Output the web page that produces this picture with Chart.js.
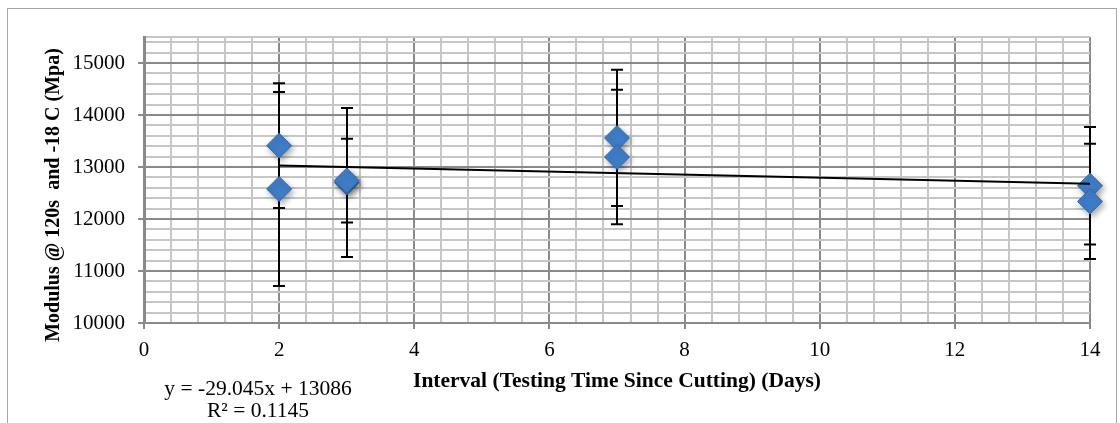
<!DOCTYPE html>
<html>
<head>
<meta charset="utf-8">
<script src="https://cdn.jsdelivr.net/npm/chart.js@4.4.0/dist/chart.umd.min.js"></script>
<style>
  html, body { margin: 0; padding: 0; background: #fff; }
  #wrap { position: relative; width: 1120px; height: 423px; overflow: hidden; }
  #moldura { position: absolute; left: 7px; top: 8px; width: 1108px; height: 600px; border: 1px solid #a6a6a6; pointer-events: none; }
</style>
</head>
<body>
<div id="wrap">
  <canvas id="myChart" width="1120" height="423"></canvas>
  <div id="moldura"></div>
</div>
<script>
// dados
var dias = [2, 2, 3, 3, 7, 7, 14, 14];
var modulo = [13410, 12577, 12702, 12740, 13558, 13192, 12640, 12338];
var erro = [1200, 1865, 1433, 805, 1310, 1295, 1130, 1108];

// linha de tendência (equação mostrada no gráfico)
var inclinacao = -29.045;
var intercepto = 13086;
var r2 = 0.1145;

var xLabels = [0, 2, 4, 6, 8, 10, 12, 14];
var yLabels = [10000, 11000, 12000, 13000, 14000, 15000];

var corMaior = '#8a8a8a';
var corMenor = '#c6c6c6';
var fonte = '"Liberation Serif", "Times New Roman", serif';

function ehMaior(lista, v) {
  return lista.some(function (l) { return Math.abs(l - v) < 1e-6; });
}

var pontos = dias.map(function (d, i) { return { x: d, y: modulo[i] }; });
var xMin = Math.min.apply(null, dias);
var xMax = Math.max.apply(null, dias);
var tendencia = [
  { x: xMin, y: inclinacao * xMin + intercepto },
  { x: xMax, y: inclinacao * xMax + intercepto }
];

// barras de erro desenhadas por baixo dos pontos
var barrasErro = {
  id: 'barrasErro',
  beforeDatasetsDraw: function (chart) {
    var ctx = chart.ctx;
    var sx = chart.scales.x, sy = chart.scales.y;
    ctx.save();
    ctx.strokeStyle = '#000';
    ctx.lineWidth = 2;
    dias.forEach(function (d, i) {
      var px = Math.round(sx.getPixelForValue(d));
      var topo = sy.getPixelForValue(modulo[i] + erro[i]);
      var base = sy.getPixelForValue(modulo[i] - erro[i]);
      ctx.beginPath();
      ctx.moveTo(px, topo); ctx.lineTo(px, base);
      ctx.moveTo(px - 6, topo); ctx.lineTo(px + 6, topo);
      ctx.moveTo(px - 6, base); ctx.lineTo(px + 6, base);
      ctx.stroke();
    });
    ctx.restore();
  },
  beforeDatasetDraw: function (chart, args) {
    if (args.index === 0) {
      chart.ctx.save();
      chart.ctx.shadowColor = 'rgba(0,0,0,0.35)';
      chart.ctx.shadowBlur = 6;
      chart.ctx.shadowOffsetX = 2;
      chart.ctx.shadowOffsetY = 3;
    }
  },
  afterDatasetDraw: function (chart, args) {
    if (args.index === 0) chart.ctx.restore();
  }
};

// títulos dos eixos e equação
var textos = {
  id: 'textos',
  afterDraw: function (chart) {
    var ctx = chart.ctx;
    var area = chart.chartArea;
    ctx.save();
    ctx.fillStyle = '#000';
    ctx.textAlign = 'center';
    ctx.textBaseline = 'alphabetic';
    ctx.font = 'bold 21.5px ' + fonte;
    ctx.fillText('Interval (Testing Time Since Cutting) (Days)', (area.left + area.right) / 2, 387);

    ctx.save();
    ctx.font = 'bold 20px ' + fonte;
    ctx.translate(59, 195);
    ctx.rotate(-Math.PI / 2);
    ctx.fillText('Modulus @ 120s  and -18 C (Mpa)', 0, 0);
    ctx.restore();

    ctx.font = '21.5px ' + fonte;
    var sinal = intercepto >= 0 ? ' + ' : ' - ';
    ctx.fillText('y = ' + inclinacao + 'x' + sinal + Math.abs(intercepto), 258, 395);
    ctx.fillText('R² = ' + r2, 258, 417);
    ctx.restore();
  }
};

var ctx = document.getElementById('myChart').getContext('2d');
var myChart = new Chart(ctx, {
  type: 'scatter',
  data: {
    datasets: [{
      label: 'Modulus',
      data: pontos,
      pointStyle: 'rectRot',
      pointRadius: 12.5,
      pointHoverRadius: 12.5,
      backgroundColor: '#3f7dc7',
      borderColor: '#3368aa',
      borderWidth: 1,
      clip: false,
      order: 1
    }, {
      type: 'line',
      label: 'Linear',
      data: tendencia,
      borderColor: '#000',
      borderWidth: 2,
      pointRadius: 0,
      fill: false,
      clip: false,
      order: 0
    }]
  },
  options: {
    responsive: false,
    animation: false,
    layout: { padding: { top: 37, right: 30, left: 0, bottom: 0 } },
    plugins: {
      legend: { display: false },
      tooltip: { enabled: false },
      title: { display: false }
    },
    scales: {
      x: {
        type: 'linear',
        min: 0,
        max: 14,
        bounds: 'data',
        afterFit: function (scale) { scale.height = 100; },
        border: { color: corMaior, width: 2 },
        grid: {
          lineWidth: 2,
          tickLength: 6,
          color: function (c) { return c.tick && ehMaior(xLabels, c.tick.value) ? corMaior : corMenor; },
          tickColor: function (c) { return c.tick && ehMaior(xLabels, c.tick.value) ? corMaior : 'rgba(0,0,0,0)'; }
        },
        ticks: {
          stepSize: 0.4,
          autoSkip: false,
          maxRotation: 0,
          padding: 9,
          color: '#000',
          font: { family: fonte, size: 21 },
          callback: function (v) { return ehMaior(xLabels, v) ? String(Math.round(v)) : ''; }
        }
      },
      y: {
        type: 'linear',
        min: 10000,
        max: 15500,
        bounds: 'data',
        afterFit: function (scale) { scale.width = 144; },
        border: { color: corMaior, width: 3 },
        grid: {
          lineWidth: 2,
          tickLength: 6,
          color: function (c) { return c.tick && ehMaior(yLabels, c.tick.value) ? corMaior : corMenor; },
          tickColor: function (c) { return c.tick && ehMaior(yLabels, c.tick.value) ? corMaior : 'rgba(0,0,0,0)'; }
        },
        ticks: {
          stepSize: 200,
          includeBounds: false,
          autoSkip: false,
          padding: 13,
          color: '#000',
          font: { family: fonte, size: 21 },
          callback: function (v) { return ehMaior(yLabels, v) ? String(v) : ''; }
        }
      }
    }
  },
  plugins: [barrasErro, textos]
});
</script>
</body>
</html>
